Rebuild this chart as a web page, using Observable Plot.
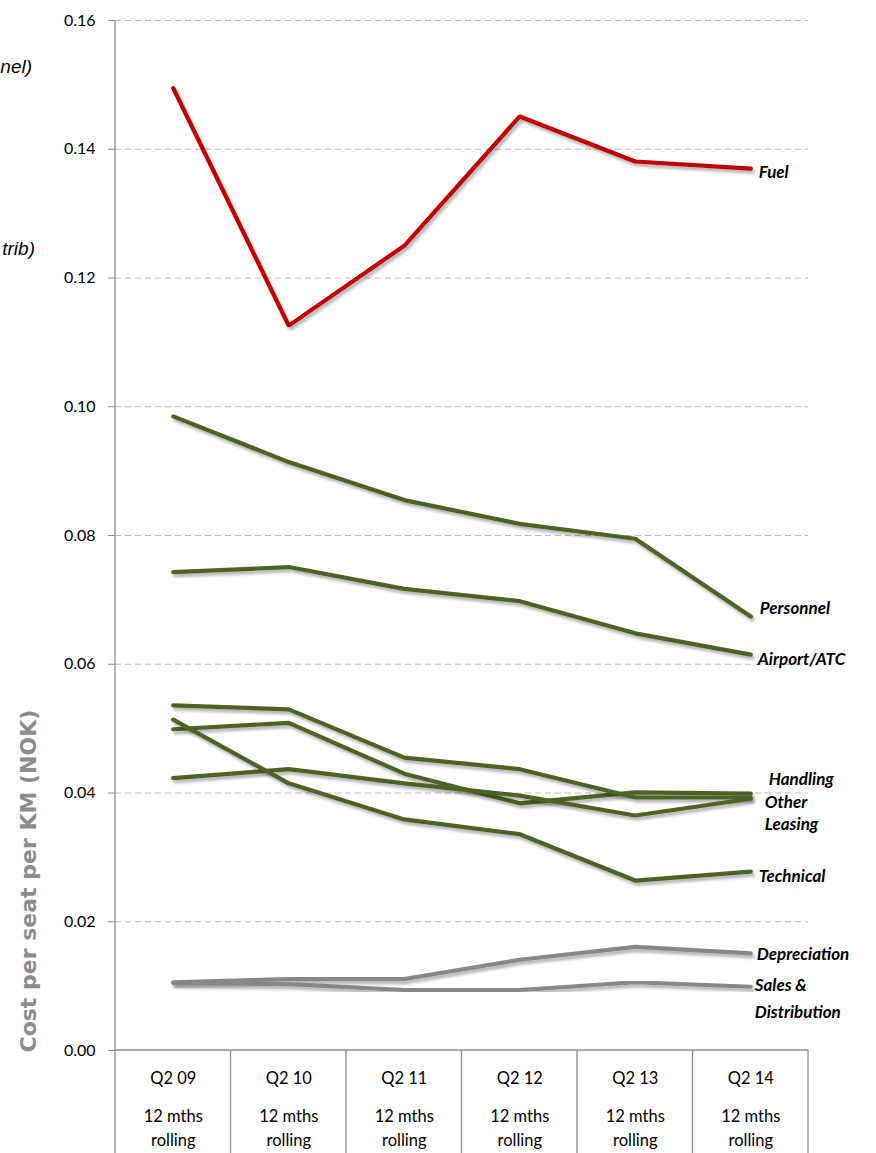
<!DOCTYPE html>
<html>
<head>
<meta charset="utf-8">
<script src="https://cdn.jsdelivr.net/npm/d3@7"></script>
<script src="https://cdn.jsdelivr.net/npm/@observablehq/plot@0.6"></script>
<style>
  html, body { margin: 0; padding: 0; background: #fff; }
  #wrap { position: relative; width: 876px; height: 1153px; overflow: hidden; }
  .cut { position: absolute; font-family: "Liberation Sans", Arial, sans-serif; font-style: italic; font-size: 19px; color: #000; text-align: right; white-space: nowrap; }
</style>
</head>
<body>
<div id="wrap">
  <div class="cut" style="right: 844px; top: 56px;">nel)</div>
  <div class="cut" style="right: 841px; top: 238px;">trib)</div>
</div>
<script>
// ---- data ----
const categories = ["Q2 09", "Q2 10", "Q2 11", "Q2 12", "Q2 13", "Q2 14"];
const periodLabels = ["12 mths\nrolling", "12 mths\nrolling", "12 mths\nrolling", "12 mths\nrolling", "12 mths\nrolling", "12 mths\nrolling"];
const yTicks = [0, 0.02, 0.04, 0.06, 0.08, 0.10, 0.12, 0.14, 0.16];
const yTitle = "Cost per seat per KM (NOK)";

const fuel              = [0.1495, 0.1126, 0.1250, 0.1451, 0.1381, 0.1370];
const personnel         = [0.0985, 0.0914, 0.0855, 0.0818, 0.0795, 0.0674];
const airportATC        = [0.0743, 0.0751, 0.0717, 0.0698, 0.0648, 0.0615];
const handling          = [0.0499, 0.0509, 0.0430, 0.0384, 0.0401, 0.0399];
const other             = [0.0536, 0.0530, 0.0455, 0.0437, 0.0393, 0.0393];
const leasing           = [0.0423, 0.0437, 0.0415, 0.0396, 0.0365, 0.0391];
const technical         = [0.0514, 0.0415, 0.0359, 0.0336, 0.0264, 0.0278];
const depreciation      = [0.0106, 0.0111, 0.0111, 0.0141, 0.0161, 0.0151];
const salesDistribution = [0.0105, 0.0103, 0.0094, 0.0094, 0.0106, 0.0099];

const seriesNames  = ["Fuel", "Personnel", "Airport/ATC", "Handling", "Other", "Leasing", "Technical", "Depreciation", "Sales & Distribution"];
const seriesLabels = ["Fuel", "Personnel", "Airport/ATC", "Handling", "Other", "Leasing", "Technical", "Depreciation", "Sales &\nDistribution"];
const seriesValues = [fuel, personnel, airportATC, handling, other, leasing, technical, depreciation, salesDistribution];

// ---- styles ----
const RED = "#c00000", GREEN = "#4f6228", GREY = "#878787";
const seriesColor = {
  "Fuel": RED, "Personnel": GREEN, "Airport/ATC": GREEN, "Handling": GREEN, "Other": GREEN,
  "Leasing": GREEN, "Technical": GREEN, "Depreciation": GREY, "Sales & Distribution": GREY
};
const labelOffset = {
  "Fuel": [8, 1], "Personnel": [9, -11], "Airport/ATC": [7, 2], "Handling": [18, -17],
  "Other": [14, 2], "Leasing": [14, 23], "Technical": [8, 2], "Depreciation": [6, -2],
  "Sales & Distribution": [4, -3]
};

const rows = [];
seriesNames.forEach((s, k) => seriesValues[k].forEach((v, i) => rows.push({series: s, i, value: v})));
const n = categories.length;

function tableGrid(index, scales, values, dims) {
  const g = d3.create("svg:g").attr("stroke", "#8c8c8c").attr("stroke-width", 1.3).attr("fill", "none");
  const y0 = scales.y(0);
  const xl = scales.x(-0.5), xr = scales.x(n - 0.5);
  g.append("line").attr("x1", xl).attr("x2", xr).attr("y1", y0).attr("y2", y0);
  g.append("line").attr("x1", xl).attr("x2", xl).attr("y1", dims.marginTop).attr("y2", dims.height);
  for (let i = 1; i <= n; i++) {
    const x = scales.x(i - 0.5);
    g.append("line").attr("x1", x).attr("x2", x).attr("y1", y0).attr("y2", dims.height);
  }
  return g.node();
}

const labelMarks = seriesNames.map((s, k) => {
  const last = seriesValues[k].length - 1;
  const [dx, dy] = labelOffset[s];
  const multi = seriesLabels[k].includes("\n");
  return Plot.text([{i: last, value: seriesValues[k][last], label: seriesLabels[k]}], {
    x: "i", y: "value", text: "label", textAnchor: "start", dx,
    lineAnchor: multi ? "top" : "middle", lineHeight: 1.55,
    dy: multi ? dy - 11 : dy,
    fontSize: 17, fontWeight: "bold", fontStyle: "italic", fill: "#000",
    fontFamily: "Lato, 'Open Sans', sans-serif"
  });
});

const chart = Plot.plot({
  width: 876, height: 1153,
  marginLeft: 115, marginRight: 68, marginTop: 20, marginBottom: 103,
  x: {type: "linear", domain: [-0.5, n - 0.5]},
  y: {domain: [0, 0.16]},
  style: {fontFamily: "Lato, 'Open Sans', sans-serif", fontSize: "16px", color: "#000", background: "transparent", overflow: "visible"},
  marks: [
    Plot.ruleY(yTicks.filter(d => d > 0), {stroke: "#bdbdbd", strokeDasharray: "6,4", strokeWidth: 1.2}),
    Plot.axisY({ticks: yTicks, tickFormat: d3.format(".2f"), tickSize: 7, tickPadding: 13, stroke: "#8c8c8c", fill: "#000",
      fontSize: 16, label: null}),
    Plot.axisX({ticks: d3.range(n), tickFormat: i => categories[i], tickSize: 0, tickPadding: 22, label: null, fontSize: 16.5, fill: "#000"}),
    Plot.axisX({ticks: d3.range(n), tickFormat: i => periodLabels[i], tickSize: 0, tickPadding: 55, lineHeight: 1.45, label: null, fontSize: 16.5, fill: "#000"}),
    Plot.text([yTitle], {frameAnchor: "bottom-left", text: d => d, rotate: -90, textAnchor: "start", lineAnchor: "middle",
      dx: -87, dy: 2, fontSize: 22, fontWeight: "bold", fill: "#8c8c8c", fontFamily: "'DejaVu Sans', Verdana, sans-serif"}),
    tableGrid,
    Plot.line(rows, {x: "i", y: "value", z: "series", stroke: d => seriesColor[d.series], strokeWidth: 4.2, strokeLinejoin: "miter", strokeLinecap: "round"}),
    ...labelMarks
  ]
});

// drop shadow on the lines, as in the original
const svg = d3.select(chart);
svg.insert("defs", ":first-child").html(
  '<filter id="shadow" x="-10%" y="-10%" width="120%" height="130%">' +
  '<feDropShadow dx="2" dy="3" stdDeviation="1.8" flood-color="#000" flood-opacity="0.3"/></filter>');
svg.selectAll('g[aria-label="line"] path').attr("filter", "url(#shadow)");

chart.style.position = "absolute";
chart.style.left = "0px";
chart.style.top = "0px";
document.getElementById("wrap").prepend(chart);
</script>
</body>
</html>
